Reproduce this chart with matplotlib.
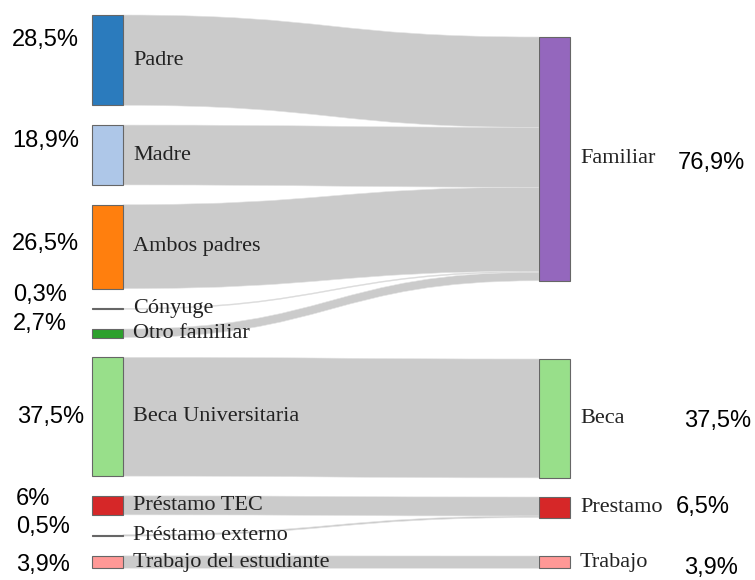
import matplotlib.pyplot as plt
from matplotlib.path import Path
from matplotlib.patches import PathPatch, Rectangle

# source nodes (left) and their share in %
sources = ["Padre", "Madre", "Ambos padres", "Cónyuge", "Otro familiar",
           "Beca Universitaria", "Préstamo TEC", "Préstamo externo",
           "Trabajo del estudiante"]
source_values = [28.5, 18.9, 26.5, 0.3, 2.7, 37.5, 6.0, 0.5, 3.9]
source_labels = ["28,5%", "18,9%", "26,5%", "0,3%", "2,7%", "37,5%", "6%", "0,5%", "3,9%"]
source_target = ["Familiar", "Familiar", "Familiar", "Familiar", "Familiar",
                 "Beca", "Prestamo", "Prestamo", "Trabajo"]

# target nodes (right)
targets = ["Familiar", "Beca", "Prestamo", "Trabajo"]
target_values = [76.9, 37.5, 6.5, 3.9]
target_labels = ["76,9%", "37,5%", "6,5%", "3,9%"]

# styling / layout (pixel coordinates, y grows downwards)
src_colors = ["#2b7bbd", "#aec7e8", "#ff7f0e", "#8c6d4b", "#2ca02c",
              "#98df8a", "#d62728", "#8c3050", "#ff9896"]
tgt_colors = ["#9467bd", "#98df8a", "#d62728", "#ff9896"]
px_per_unit = 3.17
gap = 19.7
left_x, right_x, node_w = 92, 539, 31
left_top = 15
right_tops = [37, 359, 497, 556]
src_pct_pos = [(12, 40), (12, 141), (12, 244), (13, 295), (13, 324),
               (17, 417), (16, 499), (16, 527), (16, 565)]
tgt_pct_pos = [(678, 163), (684, 421), (676, 507), (684, 568)]

fig = plt.figure(figsize=(7.55, 5.8), dpi=100)
ax = fig.add_axes([0, 0, 1, 1])
ax.set_xlim(0, 755)
ax.set_ylim(580, 0)
ax.axis("off")

serif = "Liberation Serif"
sans = "Liberation Sans"

# left node positions
src_y = []
y = left_top
for v in source_values:
    h = v * px_per_unit
    src_y.append((y, h))
    y += h + gap

tgt_y = {t: (top, v * px_per_unit) for t, top, v in zip(targets, right_tops, target_values)}
tgt_fill = {t: top for t, top in zip(targets, right_tops)}

# links
x0 = left_x + node_w
x1 = right_x
xm = (x0 + x1) / 2
for (sy, sh), t, v in zip(src_y, source_target, source_values):
    h = v * px_per_unit
    ty = tgt_fill[t]
    tgt_fill[t] += h
    verts = [(x0, sy), (xm, sy), (xm, ty), (x1, ty),
             (x1, ty + h), (xm, ty + h), (xm, sy + h), (x0, sy + h), (x0, sy)]
    codes = [Path.MOVETO, Path.CURVE4, Path.CURVE4, Path.CURVE4,
             Path.LINETO, Path.CURVE4, Path.CURVE4, Path.CURVE4, Path.CLOSEPOLY]
    ax.add_patch(PathPatch(Path(verts, codes), facecolor="#cbcbcb",
                           edgecolor="#e4e4e4", lw=0.4, zorder=1))

# left nodes + labels
for (sy, sh), name, col, lab, (px, py) in zip(src_y, sources, src_colors,
                                              source_labels, src_pct_pos):
    ax.add_patch(Rectangle((left_x, sy), node_w, max(sh, 1), facecolor=col,
                           edgecolor="#666666", lw=0.8, zorder=2))
    ax.text(left_x + node_w + 10, sy + sh / 2, name, fontsize=16, family=serif,
            color="#222222", va="center", ha="left", zorder=3)
    ax.text(px, py, lab, fontsize=17, family=sans, color="black",
            va="center", ha="left")

# right nodes + labels
for t, col, lab, (px, py) in zip(targets, tgt_colors, target_labels, tgt_pct_pos):
    ty, th = tgt_y[t]
    ax.add_patch(Rectangle((right_x, ty), node_w, th, facecolor=col,
                           edgecolor="#666666", lw=0.8, zorder=2))
    ax.text(right_x + node_w + 10, ty + th / 2, t, fontsize=16, family=serif,
            color="#222222", va="center", ha="left", zorder=3)
    ax.text(px, py, lab, fontsize=17, family=sans, color="black",
            va="center", ha="left")

fig.savefig("out.png", dpi=100)
